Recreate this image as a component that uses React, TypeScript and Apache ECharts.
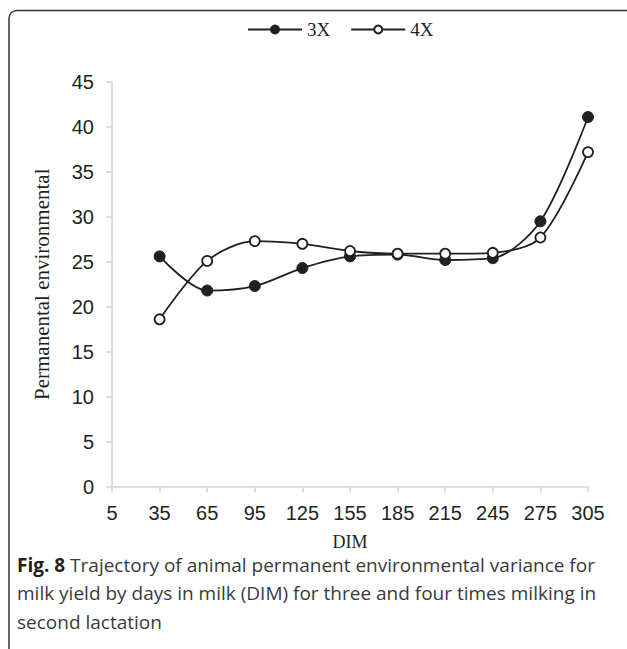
import React, { useEffect, useRef } from "react";
import * as echarts from "echarts";

const dimLabels = ["5", "35", "65", "95", "125", "155", "185", "215", "245", "275", "305"];
const series3X = [null, 25.6, 21.8, 22.3, 24.3, 25.6, 25.8, 25.2, 25.4, 29.5, 41.1];
const series4X = [null, 18.6, 25.1, 27.3, 27.0, 26.2, 25.9, 25.9, 26.0, 27.7, 37.2];
const yTicks = { min: 0, max: 45, interval: 5 };
const captionBold = "Fig. 8";
const captionLines = [
  " Trajectory of animal permanent environmental variance for",
  "milk yield by days in milk (DIM) for three and four times milking in",
  "second lactation",
];

export default function App() {
  const ref = useRef<HTMLDivElement>(null);
  useEffect(() => {
    if (!ref.current) return;
    const chart = echarts.init(ref.current, null, { renderer: "svg" });
    const axisGray = "#d4d4d4";
    const serif = "Liberation Serif";
    const sans = "Liberation Sans";
    chart.setOption({
      animation: false,
      backgroundColor: "#ffffff",
      legend: {
        top: 15,
        left: 242,
        itemWidth: 54,
        itemHeight: 10,
        itemGap: 20,
        textStyle: { fontFamily: serif, fontSize: 19, color: "#231f20" },
        data: ["3X", "4X"],
      },
      grid: { left: 112, right: 39, top: 82, bottom: 162.5, containLabel: false },
      xAxis: {
        type: "category",
        boundaryGap: false,
        data: dimLabels,
        name: "DIM",
        nameLocation: "middle",
        nameGap: 46,
        nameTextStyle: { fontFamily: serif, fontSize: 18, color: "#231f20" },
        axisLine: { show: true, lineStyle: { color: axisGray, width: 1.5 } },
        axisTick: { show: true, length: 6, lineStyle: { color: axisGray, width: 1.5 } },
        axisLabel: { fontFamily: sans, fontSize: 20, color: "#231f20", margin: 16 },
        splitLine: { show: false },
      },
      yAxis: {
        type: "value",
        min: yTicks.min,
        max: yTicks.max,
        interval: yTicks.interval,
        name: "Permanental environmental",
        nameLocation: "middle",
        nameGap: 60,
        nameTextStyle: { fontFamily: serif, fontSize: 21, color: "#231f20" },
        axisLine: { show: true, lineStyle: { color: axisGray, width: 1.5 } },
        axisTick: { show: true, length: 6, lineStyle: { color: axisGray, width: 1.5 } },
        axisLabel: { fontFamily: sans, fontSize: 20, color: "#231f20", margin: 18 },
        splitLine: { show: false },
      },
      series: [
        {
          name: "3X",
          type: "line",
          data: series3X,
          smooth: 0.3,
          symbol: "circle",
          symbolSize: 11,
          lineStyle: { color: "#231f20", width: 1.8 },
          itemStyle: { color: "#231f20", borderColor: "#231f20", borderWidth: 1 },
        },
        {
          name: "4X",
          type: "line",
          data: series4X,
          smooth: 0.3,
          symbol: "circle",
          symbolSize: 10,
          lineStyle: { color: "#231f20", width: 1.8 },
          itemStyle: { color: "#ffffff", borderColor: "#231f20", borderWidth: 1.8 },
        },
      ],
      graphic: [
        {
          type: "rect",
          shape: { x: 9, y: 10.5, width: 700, height: 700, r: 8 },
          style: { fill: "none", stroke: "#333333", lineWidth: 1.5 },
          silent: true,
        },
        {
          type: "text",
          left: 17,
          top: 555,
          style: {
            text:
              "{b|" + captionBold + "}{n|" + captionLines[0] + "}\n{n|" + captionLines[1] + "}\n{n|" + captionLines[2] + "}",
            rich: {
              b: { fontFamily: "Open Sans", fontWeight: "bold", fontSize: 19, lineHeight: 28.5, fill: "#231f20" },
              n: { fontFamily: "Open Sans", fontSize: 19, lineHeight: 28.5, fill: "#3a3a3a" },
            },
          },
        },
      ],
    });
    return () => chart.dispose();
  }, []);
  return (
    <div
      ref={ref}
      style={{ position: "fixed", left: 0, top: 0, width: 627, height: 649 }}
    />
  );
}
